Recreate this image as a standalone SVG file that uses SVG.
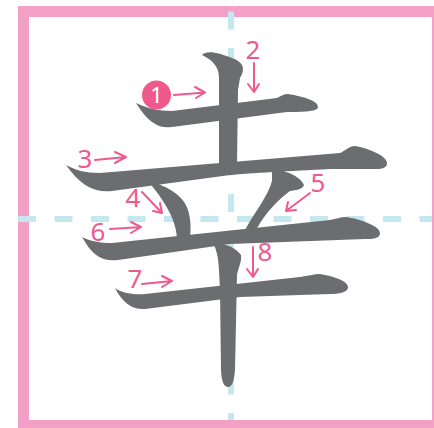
<svg xmlns="http://www.w3.org/2000/svg" width="434" height="428" viewBox="0 0 434 428">
<style>
.frame{fill:#fff;stroke:#F2A0C6;stroke-width:11}
.guide{stroke:#C4E7F0;stroke-width:6;stroke-dasharray:18 18.5;fill:none}
.stk{fill:#6C6D71}
.arr{stroke:#EE5A8C;stroke-width:2;fill:none;stroke-linecap:round;stroke-linejoin:round}
.num{fill:#EE5A8C;font-family:"Noto Sans","Open Sans",sans-serif;font-size:26px;text-anchor:middle}
</style>
<rect class="frame" x="23.5" y="11.5" width="414" height="414"/>
<g id="guides">
<line class="guide" x1="231" y1="11.5" x2="231" y2="420"/>
<line class="guide" x1="18" y1="219" x2="432" y2="219"/>
</g>
<g id="strokes">
<path id="s1" class="stk" d="M136,103 C146,108 158,111 172,111 L277,98 C281,96 284,94 288,94 C300,96 318,100 318,107 C318,112 300,112 287,112 L172,127 C158,129 148,122 136,103 Z"/>
<path id="s2" class="stk" d="M202,55 C206,50 218,52 232,58 C243,62 246,68 240,78 L238,90 L237,165 L219,165 L219,78 C219,66 212,60 202,55 Z"/>
<path id="s4" class="stk" d="M148,181 C168,186 184,196 188,210 C191,220 191,228 190,238 L177,238 C176,222 168,205 148,181 Z"/>
<path id="s5" class="stk" d="M272,169 C285,170 300,176 304,185 C302,190 296,190 290,191 C278,200 266,212 256,230 L245,230 C256,210 268,196 272,181 Z"/>
<path id="s3" class="stk" d="M66,165 C75,170 85,173 100,173 L340,153 C345,151 349,146 355,146 C368,148 387,156 387,163 C387,169 380,169 374,169 L330,169 C290,171 250,173 230,175 L112,191 C94,193 80,185 66,165 Z"/>
<path id="s6" class="stk" d="M82,237 C90,241 100,243 112,243 L330,220 C336,219 340,217 346,217 C360,219 380,226 380,233 C380,239 372,239 365,239 L230,244 L118,260 C102,262 92,255 82,237 Z"/>
<path id="s8" class="stk" d="M214,245 C222,242 234,246 241,255 C242,262 238,268 237,275 L235,370 C234,382 232,387 228,387 C223,387 221,378 221,368 L220,290 C219,270 219,255 214,245 Z"/>
<path id="s7" class="stk" d="M115,288 C122,293 132,295 145,294 L300,277 C308,276 314,274 320,274 C333,276 348,281 348,287 C348,293 338,294 330,294 L240,297 L145,309 C132,310 122,302 115,288 Z"/>
</g>
<g id="labels">
<g id="n1"><circle cx="156.5" cy="95" r="14.5" fill="#EE5A8C"/><text x="156.5" y="103" fill="#fff" font-family="Noto Sans,sans-serif" font-size="22" text-anchor="middle">1</text><path class="arr" d="M174,95 L205,92.5 M195,87 L205,92.5 L196,98"/></g>
<g id="n2"><text class="num" x="253" y="59">2</text><path class="arr" d="M254,63 L254,92 M248,84 L254,92 L259,84"/></g>
<g id="n3"><text class="num" x="85" y="168">3</text><path class="arr" d="M95,160 L126,157 M115,152 L126,157 L115,163"/></g>
<g id="n4"><text class="num" x="133" y="207">4</text><path class="arr" d="M142,192 L162,213 M160,203 L162,213 L153,211"/></g>
<g id="n5"><text class="num" x="318" y="192">5</text><path class="arr" d="M310,193 L286,211 M288,202 L286,211 L296,210"/></g>
<g id="n6"><text class="num" x="98" y="241">6</text><path class="arr" d="M110,229 L141,227 M131,222 L141,227 L131,233"/></g>
<g id="n7"><text class="num" x="135" y="288">7</text><path class="arr" d="M142,284 L172,281 M162,276 L172,281 L162,287"/></g>
<g id="n8"><text class="num" x="265" y="261">8</text><path class="arr" d="M253,247 L253,277 M247,269 L253,277 L258,269"/></g>
</g>
</svg>
